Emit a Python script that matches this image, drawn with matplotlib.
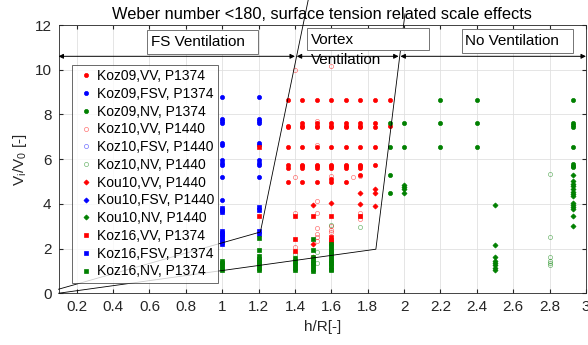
import matplotlib
matplotlib.use("Agg")
import matplotlib.pyplot as plt
from matplotlib.patches import Rectangle

plt.rcParams['font.family'] = ['Liberation Sans', 'DejaVu Sans']

# Koz09 (filled circles)
koz09_vv_x = [1.36]*7 + [1.44]*9 + [1.52]*9 + [1.6]*10 + [1.68]*9 + [1.76]*9 + [1.84]*5 + [1.92]*2
koz09_vv_y = [8.64, 7.5, 7.43, 6.56, 5.73, 5.62, 4.97,
              8.64, 7.6, 7.5, 7.42, 6.56, 5.75, 5.68, 5.62, 4.99,
              8.64, 7.6, 7.5, 7.42, 6.56, 5.75, 5.68, 5.62, 4.99,
              8.64, 7.6, 7.5, 7.42, 6.56, 5.75, 5.68, 5.62, 4.99, 5.12,
              8.64, 7.6, 7.5, 7.42, 6.56, 5.75, 5.68, 5.62, 4.99,
              8.64, 7.6, 7.5, 7.42, 6.56, 5.75, 5.68, 5.62, 5.31,
              8.64, 7.6, 7.45, 6.56, 5.75,
              8.64, 7.5]
koz09_fsv_x = [1.0]*11 + [1.2]*10
koz09_fsv_y = [8.77, 7.78, 7.7, 7.62, 6.72, 6.62, 5.98, 5.84, 5.73, 5.19, 4.15,
               8.77, 7.78, 7.7, 7.62, 6.72, 6.62, 5.98, 5.84, 5.73, 5.19]
koz09_nv_x = [1.92, 1.92, 1.92, 1.92, 2.0, 2.0, 2.2, 2.2, 2.2, 2.4, 2.4, 2.4,
              2.93, 2.93, 2.93, 2.93, 2.93, 2.93, 2.93, 2.93]
koz09_nv_y = [7.6, 6.56, 5.31, 4.48, 7.6, 6.56, 8.64, 7.6, 6.56, 8.64, 7.6, 6.56,
              8.64, 7.6, 7.52, 7.44, 6.56, 5.76, 5.7, 5.63]

# Koz10 (open circles)
koz10_vv_x = [1.4, 1.6, 1.52, 1.52, 1.4, 1.6, 1.72, 1.76, 1.4, 1.4, 1.52, 1.52, 1.52,
              1.52, 1.52, 1.52, 1.6, 1.6, 1.6, 1.76, 1.76, 1.76]
koz10_vv_y = [10.0, 10.17, 7.72, 6.65, 5.19, 5.24, 5.2, 5.25, 3.59, 2.05, 4.12, 3.59, 2.94,
              2.67, 2.5, 2.35, 3.0, 2.85, 2.74, 3.59, 3.45, 3.3]
koz10_fsv_x = []
koz10_fsv_y = []
koz10_nv_x = [1.4, 1.52, 1.52, 1.6, 1.6, 1.6, 1.76, 2.8, 2.8, 2.8, 2.8, 2.8, 2.8]
koz10_nv_y = [1.74, 1.85, 1.34, 3.04, 1.9, 1.5, 2.97, 5.34, 2.51, 1.63, 1.45, 1.35, 1.26]

# Kou10 (diamonds)
kou10_vv_x = [1.76, 1.76, 1.84, 1.84, 1.84, 1.5, 1.5, 1.5, 1.6]
kou10_vv_y = [4.48, 4.0, 4.68, 4.48, 3.89, 3.93, 2.2, 1.63, 4.05]
kou10_fsv_x = []
kou10_fsv_y = []
kou10_nv_x = [2.0]*4 + [2.93]*14 + [2.5]*8
kou10_nv_y = [4.86, 4.75, 4.65, 4.5,
              5.3, 5.0, 4.9, 4.82, 4.65, 4.55, 4.45, 4.35, 4.05, 3.95, 3.85, 3.79, 3.44, 3.01,
              3.93, 2.18, 1.63, 1.45, 1.35, 1.25, 1.15, 1.05]

# Koz16 (squares)
koz16_vv_x = [1.2, 1.2, 1.4, 1.4, 1.4, 1.5, 1.6, 1.76, 1.6, 1.6, 1.6]
koz16_vv_y = [6.54, 3.45, 3.46, 2.42, 1.9, 3.46, 3.46, 3.44, 2.5, 2.4, 2.3]
koz16_fsv_x = [1.0]*10 + [1.2]*4
koz16_fsv_y = [3.82, 3.72, 3.63, 2.8, 2.7, 2.6, 2.5, 2.4, 2.3, 2.2,
               3.85, 3.72, 2.78, 2.65]
koz16_nv_x = [1.0]*5 + [1.2]*9 + [1.4]*6 + [1.5]*9 + [1.6]*13
koz16_nv_y = [1.44, 1.35, 1.25, 1.15, 1.05,
              2.45, 1.92, 1.65, 1.55, 1.45, 1.35, 1.25, 1.15, 1.05,
              1.56, 1.45, 1.35, 1.25, 1.15, 1.04,
              2.42, 1.93, 1.6, 1.5, 1.4, 1.3, 1.2, 1.1, 1.0,
              2.2, 2.1, 2.0, 1.9, 1.8, 1.7, 1.6, 1.5, 1.4, 1.3, 1.2, 1.1, 1.04]

# regime boundaries
lower_x = [0.1, 1.845, 2.005]
lower_y = [0.0, 1.97, 12.5]
upper_x = [0.1, 1.21, 1.475]
upper_y = [0.18, 2.74, 13.2]

red, blue, green = (1, 0, 0), (0, 0, 1), (0, 0.5, 0)
dark = (0.15, 0.15, 0.15)

fig = plt.figure(figsize=(5.88, 3.45), dpi=100)
ax = fig.add_axes([0.0995, 0.15, 0.897, 0.7775])

series = [
    (koz09_vv_x, koz09_vv_y, 'o', red, True, 'Koz09,VV, P1374'),
    (koz09_fsv_x, koz09_fsv_y, 'o', blue, True, 'Koz09,FSV, P1374'),
    (koz09_nv_x, koz09_nv_y, 'o', green, True, 'Koz09,NV, P1374'),
    (koz10_vv_x, koz10_vv_y, 'o', red, False, 'Koz10,VV, P1440'),
    (koz10_fsv_x, koz10_fsv_y, 'o', blue, False, 'Koz10,FSV, P1440'),
    (koz10_nv_x, koz10_nv_y, 'o', green, False, 'Koz10,NV, P1440'),
    (kou10_vv_x, kou10_vv_y, 'D', red, True, 'Kou10,VV, P1440'),
    (kou10_fsv_x, kou10_fsv_y, 'D', blue, True, 'Kou10,FSV, P1440'),
    (kou10_nv_x, kou10_nv_y, 'D', green, True, 'Kou10,NV, P1440'),
    (koz16_vv_x, koz16_vv_y, 's', red, True, 'Koz16,VV, P1374'),
    (koz16_fsv_x, koz16_fsv_y, 's', blue, True, 'Koz16,FSV, P1374'),
    (koz16_nv_x, koz16_nv_y, 's', green, True, 'Koz16,NV, P1374'),
]
for xs, ys, m, c, filled, lab in series:
    ms = 3.0 if m == 'o' else 2.6
    ax.plot(xs, ys, linestyle='none', marker=m, markersize=ms,
            markerfacecolor=c if filled else 'none', markeredgecolor=c,
            markeredgewidth=0.5, alpha=1 if filled else 0.55, label=lab, zorder=3)

ax.plot(lower_x, lower_y, color='k', lw=0.6, clip_on=False, zorder=4)
ax.plot(upper_x, upper_y, color='k', lw=0.6, clip_on=False, zorder=4)

ax.set_xlim(0.1, 3)
ax.set_ylim(0, 12)
ax.set_xticks([0.2, 0.4, 0.6, 0.8, 1, 1.2, 1.4, 1.6, 1.8, 2, 2.2, 2.4, 2.6, 2.8, 3])
ax.set_xticklabels(['0.2', '0.4', '0.6', '0.8', '1', '1.2', '1.4', '1.6', '1.8', '2',
                    '2.2', '2.4', '2.6', '2.8', '3'])
ax.set_yticks([0, 2, 4, 6, 8, 10, 12])
ax.grid(True, color=(0.88, 0.88, 0.88), lw=0.6)
ax.set_axisbelow(True)
ax.tick_params(direction='in', top=True, right=True, length=3, labelsize=11,
               colors=dark, pad=5)
for s in ax.spines.values():
    s.set_color(dark)
    s.set_linewidth(0.6)

ax.set_title('Weber number <180, surface tension related scale effects',
             fontsize=11.8, pad=4)
ax.set_xlabel('h/R[-]', fontsize=11, color=dark)
ax.set_ylabel(r'V$_\mathregular{i}$/V$_\mathregular{0}$ [-]', fontsize=11,
              color=dark, labelpad=4)

# regime arrows
for x0, x1 in [(0.1, 1.40), (1.41, 1.97), (1.98, 3.0)]:
    ax.annotate('', xy=(x1, 10.6), xytext=(x0, 10.6), annotation_clip=False,
                arrowprops=dict(arrowstyle='<|-|>', color='k', lw=0.7,
                                mutation_scale=7, shrinkA=0, shrinkB=0), zorder=5)

# text boxes
boxes = [(0.588, 10.72, 0.609, 1.04), (1.466, 10.87, 0.673, 1.0), (2.32, 10.76, 0.61, 1.07)]
for bx, by, bw, bh in boxes:
    ax.add_patch(Rectangle((bx, by), bw, bh, facecolor='white', edgecolor=(0.45, 0.45, 0.45),
                           lw=0.7, zorder=4))
ax.text(0.61, 11.24, 'FS Ventilation', fontsize=11, va='center', zorder=6)
ax.text(1.49, 11.31, 'Vortex', fontsize=11, va='center', zorder=6)
ax.text(1.49, 10.42, 'Ventilation', fontsize=11, va='center', zorder=6)
ax.text(2.335, 11.28, 'No Ventilation', fontsize=11, va='center', zorder=6)

leg = ax.legend(loc='upper left', bbox_to_anchor=(0.025, 0.851), fontsize=10,
                frameon=True, fancybox=False, edgecolor=dark,
                handlelength=1.4, handletextpad=0.1, labelspacing=0.27,
                borderpad=0.3, borderaxespad=0, markerscale=1.0)
leg.get_frame().set_linewidth(0.6)
leg.set_zorder(5)

fig.savefig('out.png', dpi=100)
